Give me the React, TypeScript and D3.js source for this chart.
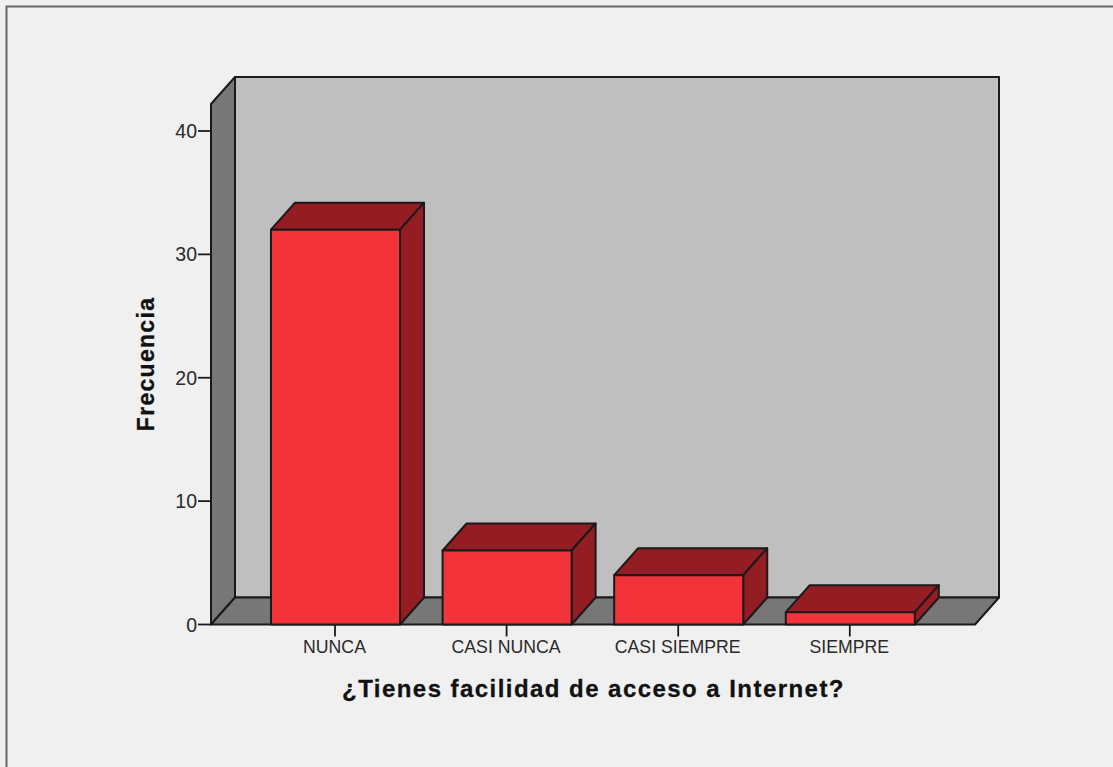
import React from "react";
import * as d3 from "d3";

const categories = ["NUNCA", "CASI NUNCA", "CASI SIEMPRE", "SIEMPRE"];
const frequencies = [32, 6, 4, 1];
const yTicks = [0, 10, 20, 30, 40];
const xTitle = "¿Tienes facilidad de acceso a Internet?";
const yTitle = "Frecuencia";

const W = 1113, H = 767;
const floorLeft = 211, floorRight = 975, baseY = 624.5;
const depthX = 24, depthY = 27;
const topBackY = 77;

const y = d3.scaleLinear().domain([0, 40]).range([baseY, 131]);
const x = d3.scaleBand<string>().domain(categories).range([249.7, 936.1]).paddingInner(0.248).paddingOuter(0.124);

const poly = (pts: [number, number][]) => (d3.line()(pts) as string) + "Z";
const INK = "#1a1a1a";

export default function App() {
  const topFrontY = topBackY + depthY;
  return (
    <svg width={W} height={H} viewBox={`0 0 ${W} ${H}`} style={{ position: "absolute", left: 0, top: 0, display: "block" }}>
      <rect width={W} height={H} fill="#f0f0f0" />
      <path d={`M6.5 ${H}V6.5H${W}`} fill="none" stroke="#666" strokeWidth={2} />
      <g stroke={INK} strokeWidth={2} strokeLinejoin="round">
        <rect x={floorLeft + depthX} y={topBackY} width={floorRight - floorLeft} height={baseY - depthY - topBackY} fill="#bfbfbf" />
        <path d={poly([[floorLeft, topFrontY], [floorLeft + depthX, topBackY], [floorLeft + depthX, baseY - depthY], [floorLeft, baseY]])} fill="#777" />
        <path d={poly([[floorLeft, baseY], [floorLeft + depthX, baseY - depthY], [floorRight + depthX, baseY - depthY], [floorRight, baseY]])} fill="#777" />
      </g>
      {categories.map((c, i) => {
        const x0 = x(c)!, x1 = x0 + x.bandwidth(), yt = y(frequencies[i]);
        return (
          <g key={c} stroke={INK} strokeWidth={2} strokeLinejoin="round">
            <path d={poly([[x0, yt], [x0 + depthX, yt - depthY], [x1 + depthX, yt - depthY], [x1, yt]])} fill="#931d22" />
            <path d={poly([[x1, yt], [x1 + depthX, yt - depthY], [x1 + depthX, baseY - depthY], [x1, baseY]])} fill="#931d22" />
            <rect x={x0} y={yt} width={x.bandwidth()} height={baseY - yt} fill="#f3333a" />
          </g>
        );
      })}
      {yTicks.map((t) => (
        <g key={t}>
          <line x1={floorLeft - 13} x2={floorLeft} y1={y(t)} y2={y(t)} stroke={INK} strokeWidth={1.8} />
          <text x={197} y={y(t) + 7} textAnchor="end" fontFamily="Liberation Sans" fontSize={19.5} fill="#2a2a2a">{t}</text>
        </g>
      ))}
      {categories.map((c) => {
        const cx = x(c)! + x.bandwidth() / 2;
        return (
          <g key={c}>
            <line x1={cx - 0.5} x2={cx - 0.5} y1={baseY} y2={baseY + 12} stroke={INK} strokeWidth={1.8} />
            <text x={cx - 1} y={653} textAnchor="middle" fontFamily="Liberation Sans" fontSize={17.7} fill="#2a2a2a">{c}</text>
          </g>
        );
      })}
      <text x={593.5} y={697} textAnchor="middle" fontFamily="Liberation Sans" fontWeight="bold" fontSize={24} letterSpacing={1.45} fill="#111" stroke="#111" strokeWidth={0.3}>{xTitle}</text>
      <text transform="translate(154,364) rotate(-90)" textAnchor="middle" fontFamily="Liberation Sans" fontWeight="bold" fontSize={23} letterSpacing={1.3} fill="#111" stroke="#111" strokeWidth={0.3}>{yTitle}</text>
    </svg>
  );
}
